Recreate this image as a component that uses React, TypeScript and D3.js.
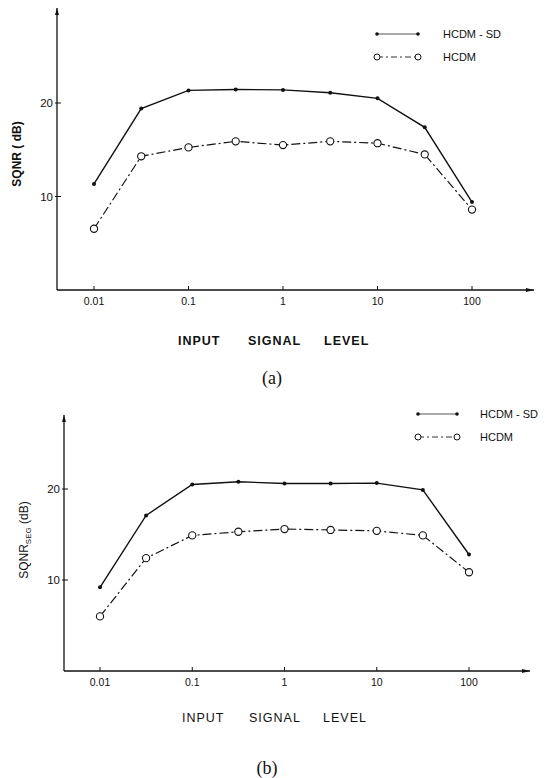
import * as d3 from 'd3';

// input signal levels (half-decade steps)
const levels = [0.01, 0.0316, 0.1, 0.316, 1, 3.16, 10, 31.6, 100];
const tickValues = [0.01, 0.1, 1, 10, 100];
const tickLabels = ['0.01', '0.1', '1', '10', '100'];
const yTicks = [10, 20];
const titleWords = ['INPUT', 'SIGNAL', 'LEVEL'];

// (a) SQNR
const sqnrSD = [11.35, 19.4, 21.35, 21.45, 21.4, 21.1, 20.5, 17.4, 9.4];
const sqnrHCDM = [6.55, 14.3, 15.25, 15.9, 15.5, 15.9, 15.7, 14.5, 8.6];

// (b) segmental SQNR
const segSD = [9.2, 17.1, 20.5, 20.8, 20.6, 20.6, 20.65, 19.9, 12.8];
const segHCDM = [6.0, 12.4, 14.9, 15.3, 15.6, 15.5, 15.4, 14.9, 10.85];

const DASHDOT = '9,3,2,3';
const sans = '"Liberation Sans", Arial, sans-serif';

type PanelProps = {
  sd: number[];
  hcdm: number[];
  axisX: number;
  axisTop: number;
  axisY: number;
  axisRight: number;
  xFrom: number;
  xTo: number;
  y20: number;
  legendX1: number;
  legendX2: number;
  legendTextX: number;
  legendY: number;
  yLabelY: number;
  seg: boolean;
  wordX: number[];
  titleY: number;
  caption: string;
  captionX: number;
  captionY: number;
  bold: boolean;
};

const Panel = (p: PanelProps) => {
  const x = d3.scaleLog().domain([0.01, 100]).range([p.xFrom, p.xTo]);
  const y = d3.scaleLinear().domain([0, 20]).range([p.axisY, p.y20]);
  const pts = (vals: number[]) => levels.map((l, i) => [x(l), y(vals[i])] as [number, number]);
  const line = d3.line();
  const sdPts = pts(p.sd);
  const hPts = pts(p.hcdm);
  const weight = p.bold ? 'bold' : 'normal';

  return (
    <g fontFamily={sans} fill="#111">
      {/* axes */}
      <line x1={p.axisX} x2={p.axisRight} y1={p.axisY} y2={p.axisY} stroke="#111" strokeWidth={1.3} />
      <line x1={p.axisX} x2={p.axisX} y1={p.axisY} y2={p.axisTop} stroke="#111" strokeWidth={1.3} />
      <path d={`M${p.axisX - 2},${p.axisTop + 7}L${p.axisX},${p.axisTop}L${p.axisX + 2},${p.axisTop + 7}Z`} fill="#111" />
      <path d={`M${p.axisRight - 8},${p.axisY - 2}L${p.axisRight},${p.axisY}L${p.axisRight - 8},${p.axisY + 2}Z`} fill="#111" />
      {tickValues.map((t, i) => (
        <g key={t}>
          <line x1={x(t)} x2={x(t)} y1={p.axisY} y2={p.axisY - 4} stroke="#111" strokeWidth={1} />
          <text x={x(t)} y={p.axisY + 15} fontSize={10.5} textAnchor="middle">{tickLabels[i]}</text>
        </g>
      ))}
      {yTicks.map((t) => (
        <g key={t}>
          <line x1={p.axisX - 2} x2={p.axisX + 4} y1={y(t)} y2={y(t)} stroke="#111" strokeWidth={1} />
          <text x={p.axisX - 4} y={y(t) + 4} fontSize={11.5} textAnchor="end">{t}</text>
        </g>
      ))}
      {/* y label */}
      <text
        transform={`translate(${p.axisX - 36},${p.yLabelY}) rotate(-90)`}
        fontSize={12}
        fontWeight={weight}
        textAnchor="middle"
      >
        {p.seg ? (
          <>
            SQNR<tspan fontSize={8} dy={3}>SEG</tspan>
            <tspan dy={-3}> (dB)</tspan>
          </>
        ) : (
          'SQNR ( dB)'
        )}
      </text>
      {/* series */}
      <path d={line(sdPts) ?? ''} fill="none" stroke="#111" strokeWidth={1.4} />
      <path d={line(hPts) ?? ''} fill="none" stroke="#111" strokeWidth={1.2} strokeDasharray={DASHDOT} />
      {sdPts.map(([cx, cy], i) => (
        <circle key={i} cx={cx} cy={cy} r={2} fill="#111" />
      ))}
      {hPts.map(([cx, cy], i) => (
        <circle key={i} cx={cx} cy={cy} r={3.6} fill="#fff" stroke="#111" strokeWidth={1.1} />
      ))}
      {/* legend */}
      <line x1={p.legendX1} x2={p.legendX2} y1={p.legendY} y2={p.legendY} stroke="#555" strokeWidth={1} />
      <circle cx={p.legendX1} cy={p.legendY} r={1.8} fill="#111" />
      <circle cx={p.legendX2} cy={p.legendY} r={1.8} fill="#111" />
      <text x={p.legendTextX} y={p.legendY + 4} fontSize={11}>HCDM - SD</text>
      <line x1={p.legendX1} x2={p.legendX2} y1={p.legendY + 23} y2={p.legendY + 23} stroke="#333" strokeWidth={1} strokeDasharray="6,3,2,3" />
      <circle cx={p.legendX1} cy={p.legendY + 23} r={3} fill="#fff" stroke="#111" />
      <circle cx={p.legendX2} cy={p.legendY + 23} r={3} fill="#fff" stroke="#111" />
      <text x={p.legendTextX} y={p.legendY + 27} fontSize={11}>HCDM</text>
      {/* x title */}
      {titleWords.map((w, i) => (
        <text key={w} x={p.wordX[i]} y={p.titleY} fontSize={12.5} fontWeight={weight} letterSpacing={1}>
          {w}
        </text>
      ))}
      <text x={p.captionX} y={p.captionY} fontSize={18} textAnchor="middle" fontFamily='"Liberation Serif", "Times New Roman", serif'>
        {p.caption}
      </text>
    </g>
  );
};

export default function App() {
  return (
    <svg
      width={557}
      height={778}
      style={{ position: 'absolute', left: 0, top: 0, background: '#fff' }}
    >
      <rect width={557} height={778} fill="#fff" />
      <Panel
        sd={sqnrSD}
        hcdm={sqnrHCDM}
        axisX={57}
        axisTop={8}
        axisY={290}
        axisRight={534}
        xFrom={94}
        xTo={472}
        y20={103}
        legendX1={377}
        legendX2={418}
        legendTextX={443}
        legendY={34}
        yLabelY={154}
        seg={false}
        wordX={[178, 248, 324]}
        titleY={345}
        caption="(a)"
        captionX={272}
        captionY={384}
        bold={true}
      />
      <Panel
        sd={segSD}
        hcdm={segHCDM}
        axisX={64}
        axisTop={415}
        axisY={671}
        axisRight={530}
        xFrom={100}
        xTo={469}
        y20={489}
        legendX1={418}
        legendX2={457}
        legendTextX={480}
        legendY={414}
        yLabelY={540}
        seg={true}
        wordX={[182, 249, 323]}
        titleY={722}
        caption="(b)"
        captionX={267}
        captionY={774}
        bold={false}
      />
    </svg>
  );
}
